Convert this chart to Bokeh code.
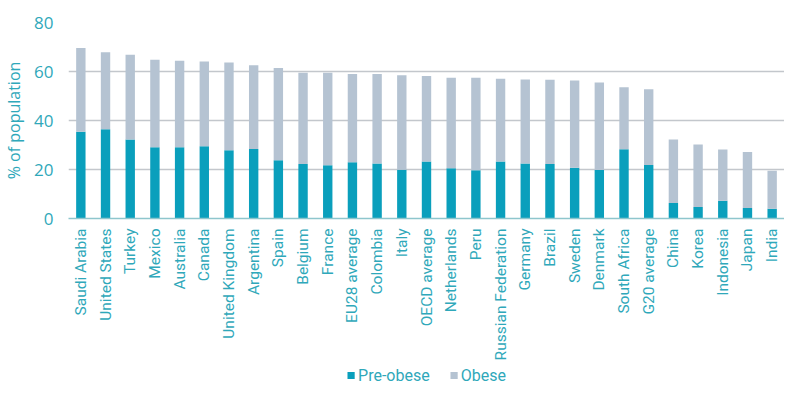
import math
from bokeh.plotting import figure
from bokeh.layouts import column
from bokeh.models import FactorRange, Range1d, Legend, LegendItem, ColumnDataSource
from bokeh.embed import file_html
from bokeh.resources import INLINE

countries = ["Saudi Arabia", "United States", "Turkey", "Mexico", "Australia", "Canada",
             "United Kingdom", "Argentina", "Spain", "Belgium", "France", "EU28 average",
             "Colombia", "Italy", "OECD average", "Netherlands", "Peru", "Russian Federation",
             "Germany", "Brazil", "Sweden", "Denmark", "South Africa", "G20 average",
             "China", "Korea", "Indonesia", "Japan", "India"]
pre_obese = [35.4, 36.4, 32.2, 29.1, 29.1, 29.5, 27.9, 28.4, 23.8, 22.2, 21.7, 23.0,
             22.5, 19.9, 23.3, 20.5, 19.7, 23.3, 22.5, 22.2, 20.7, 19.8, 28.3, 21.8,
             6.3, 4.7, 7.2, 4.3, 4.0]
total = [69.6, 67.9, 66.8, 64.8, 64.4, 64.1, 63.7, 62.6, 61.4, 59.5, 59.5, 59.0,
         59.0, 58.5, 58.2, 57.5, 57.4, 57.0, 56.7, 56.6, 56.3, 55.5, 53.6, 52.8,
         32.2, 30.2, 28.2, 27.1, 19.5]
obese = [round(t - p, 1) for t, p in zip(total, pre_obese)]
series = ["Pre-obese", "Obese"]
y_ticks = [0, 20, 40, 60, 80]

TEAL = "#0a9fbc"
GREY = "#b5c3d2"
TEXT = "#2fa8ba"
FONT = "Roboto"

src = ColumnDataSource(dict(country=countries, pre=pre_obese, obese=obese))

p = figure(x_range=FactorRange(*countries, range_padding=0), y_range=Range1d(0, 80),
           width=784, height=363, output_backend="svg", toolbar_location=None,
           min_border_left=67, min_border_right=0, min_border_top=22, min_border_bottom=0)

r = p.vbar_stack(["pre", "obese"], x="country", width=0.38, color=[TEAL, GREY],
                 line_color=None, source=src)

p.outline_line_color = None
p.xgrid.grid_line_color = None
p.ygrid.grid_line_color = "#c3c7cc"
p.ygrid.grid_line_width = 1.3
p.yaxis.ticker = y_ticks
p.yaxis.axis_line_color = None
p.yaxis.major_tick_line_color = None
p.yaxis.minor_tick_line_color = None
p.yaxis.major_tick_out = 0
p.yaxis.major_tick_in = 0
p.yaxis.major_label_text_color = TEXT
p.yaxis.major_label_text_font = "Open Sans"
p.yaxis.major_label_text_font_size = "17px"
p.yaxis.major_label_standoff = 15
p.yaxis.axis_label = "% of population"
p.yaxis.axis_label_text_font = "Open Sans"
p.yaxis.axis_label_text_font_style = "normal"
p.yaxis.axis_label_text_font_size = "16px"
p.yaxis.axis_label_text_color = TEXT
p.yaxis.axis_label_standoff = 6

p.xaxis.axis_line_color = "#8ec6cd"
p.xaxis.axis_line_width = 1.5
p.xaxis.major_tick_line_color = None
p.xaxis.minor_tick_line_color = None
p.xaxis.major_tick_out = 0
p.xaxis.major_tick_in = 0
p.xaxis.major_label_orientation = math.pi / 2
p.xaxis.major_label_text_color = TEXT
p.xaxis.major_label_text_font = FONT
p.xaxis.major_label_text_font_size = "15.5px"
p.xaxis.major_label_standoff = 10

# legend row below the chart
p2 = figure(x_range=p.x_range, y_range=Range1d(1000, 1001), width=784, height=23,
            output_backend="svg", toolbar_location=None,
            x_axis_location=None, y_axis_location=None, min_border=0)
p2.outline_line_color = None
p2.grid.visible = False
r2 = p2.vbar_stack(["pre", "obese"], x="country", width=0.38, color=[TEAL, GREY],
                   line_color=None, source=src)

legend = Legend(items=[LegendItem(label=series[0], renderers=[r2[0]]),
                       LegendItem(label=series[1], renderers=[r2[1]])],
                orientation="horizontal", location="center")
legend.label_text_font = FONT
legend.label_text_font_size = "16px"
legend.label_text_color = TEXT
legend.glyph_width = 9
legend.glyph_height = 9
legend.label_standoff = 3
legend.spacing = 19
legend.border_line_color = None
legend.background_fill_alpha = 0
legend.margin = 0
legend.padding = 0
p2.add_layout(legend)

layout = column(p, p2, spacing=0)
open("out.html", "w").write(file_html(layout, INLINE))
